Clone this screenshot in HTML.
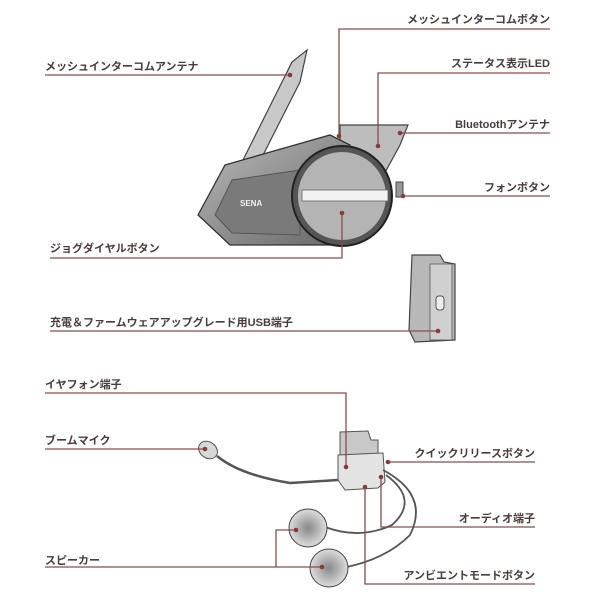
<!DOCTYPE html>
<html><head><meta charset="utf-8"><style>
html,body{margin:0;padding:0;background:#fff;}
svg{display:block}
text{font-family:"Liberation Sans","Noto Sans CJK JP",sans-serif;font-size:11px;font-weight:bold;fill:#4a3c3c;}
.l{stroke:#8a4c4a;stroke-width:1.3;fill:none}
.d{fill:#8a3a3a}
</style></head><body>
<svg width="600" height="600" viewBox="0 0 600 600">
<defs>
<linearGradient id="g1" x1="0" y1="0" x2="1" y2="1"><stop offset="0" stop-color="#bbb"/><stop offset="1" stop-color="#666"/></linearGradient>
<radialGradient id="g2"><stop offset="0" stop-color="#888"/><stop offset="1" stop-color="#ddd"/></radialGradient>
</defs>
<!-- main device -->
<path d="M238 170 L292 62 L307 50 L300 82 L258 165 Z" fill="#c8c8c8" stroke="#444" stroke-width="1.2"/>
<path d="M340 125 L408 125 L400 145 L370 200 L340 190 Z" fill="#bdbdbd" stroke="#444" stroke-width="1.2"/>
<path d="M225 165 L330 135 L350 145 L345 245 L230 245 L198 215 Z" fill="url(#g1)" stroke="#333" stroke-width="1.3"/>
<path d="M215 215 L232 180 L300 170 L300 235 L232 233 Z" fill="#7a7a7a" stroke="#555"/>
<text x="240" y="206" style="font-size:8px;fill:#eee">SENA</text>
<circle cx="342" cy="196" r="50" fill="#555" stroke="#222" stroke-width="2"/>
<circle cx="342" cy="196" r="44" fill="#b4b4b4"/>
<rect x="302" y="190" width="86" height="11" fill="#f2f2f2" stroke="#666" stroke-width="0.8"/>
<rect x="396" y="182" width="7" height="15" fill="#999" stroke="#444"/>
<!-- side view -->
<path d="M412 255 L440 255 L444 262 L455 264 L455 340 L415 342 L409 330 Z" fill="#b8b8b8" stroke="#444" stroke-width="1.2"/>
<rect x="430" y="264" width="22" height="76" fill="#d0d0d0" stroke="#555" stroke-width="0.8"/>
<rect x="436" y="296" width="8" height="14" rx="3" fill="#eee" stroke="#555"/>
<!-- clamp -->
<path d="M340 432 L368 431 L371 440 L378 440 L378 455 L340 458 Z" fill="#c8c8c8" stroke="#555"/>
<path d="M338 455 L383 453 L385 482 L378 488 L345 490 L338 480 Z" fill="#e3e3e3" stroke="#555"/>
<!-- boom mic -->
<path d="M217 456 Q240 475 290 483 L338 480" class="l" style="stroke:#555;stroke-width:2.5"/>
<ellipse cx="208" cy="450" rx="10" ry="8" transform="rotate(35 208 450)" fill="#d8d8d8" stroke="#555"/>
<!-- cables -->
<path d="M386 475 Q420 500 392 525 Q360 540 325 527" fill="none" stroke="#555" stroke-width="1.8"/>
<path d="M383 470 Q430 495 410 535 Q385 560 342 568" fill="none" stroke="#555" stroke-width="1.8"/>
<circle cx="308" cy="528" r="19" fill="url(#g2)" stroke="#444"/>
<circle cx="329" cy="568" r="19" fill="url(#g2)" stroke="#444"/>

<!-- labels right -->
<text x="550" y="23" text-anchor="end">メッシュインターコムボタン</text>
<path class="l" d="M550 29 H339 V136"/><circle class="d" cx="339" cy="136" r="2.3"/>
<text x="550" y="67" text-anchor="end">ステータス表示LED</text>
<path class="l" d="M550 73 H378 V146"/><circle class="d" cx="378" cy="146" r="2.3"/>
<text x="550" y="128" text-anchor="end">Bluetoothアンテナ</text>
<path class="l" d="M550 133 H400"/><circle class="d" cx="400" cy="133" r="2.3"/>
<text x="550" y="191" text-anchor="end">フォンボタン</text>
<path class="l" d="M550 196 H403"/><circle class="d" cx="403" cy="196" r="2.3"/>
<!-- labels left -->
<text x="45" y="70">メッシュインターコムアンテナ</text>
<path class="l" d="M45 75 H290"/><circle class="d" cx="290" cy="75" r="2.3"/>
<text x="50" y="252">ジョグダイヤルボタン</text>
<path class="l" d="M50 258 H342 V213"/><circle class="d" cx="342" cy="213" r="2.3"/>
<text x="50" y="326">充電＆ファームウェアアップグレード用USB端子</text>
<path class="l" d="M50 331 H438"/><circle class="d" cx="438" cy="331" r="2.3"/>
<text x="45" y="388">イヤフォン端子</text>
<path class="l" d="M45 393 H346 V467"/><circle class="d" cx="346" cy="467" r="2.3"/>
<text x="45" y="444">ブームマイク</text>
<path class="l" d="M45 449 H205"/><circle class="d" cx="205" cy="449" r="2.3"/>
<text x="45" y="564">スピーカー</text>
<path class="l" d="M45 567 H322 M276 567 V530 H296"/><circle class="d" cx="296" cy="530" r="2.3"/><circle class="d" cx="322" cy="567" r="2.3"/>
<text x="535" y="457" text-anchor="end">クイックリリースボタン</text>
<path class="l" d="M535 462 H388"/><circle class="d" cx="388" cy="462" r="2.3"/>
<text x="535" y="522" text-anchor="end">オーディオ端子</text>
<path class="l" d="M535 527 H381 V477"/><circle class="d" cx="381" cy="477" r="2.3"/>
<text x="535" y="579" text-anchor="end">アンビエントモードボタン</text>
<path class="l" d="M535 584 H365 V487"/><circle class="d" cx="365" cy="487" r="2.3"/>
</svg>
</body></html>
